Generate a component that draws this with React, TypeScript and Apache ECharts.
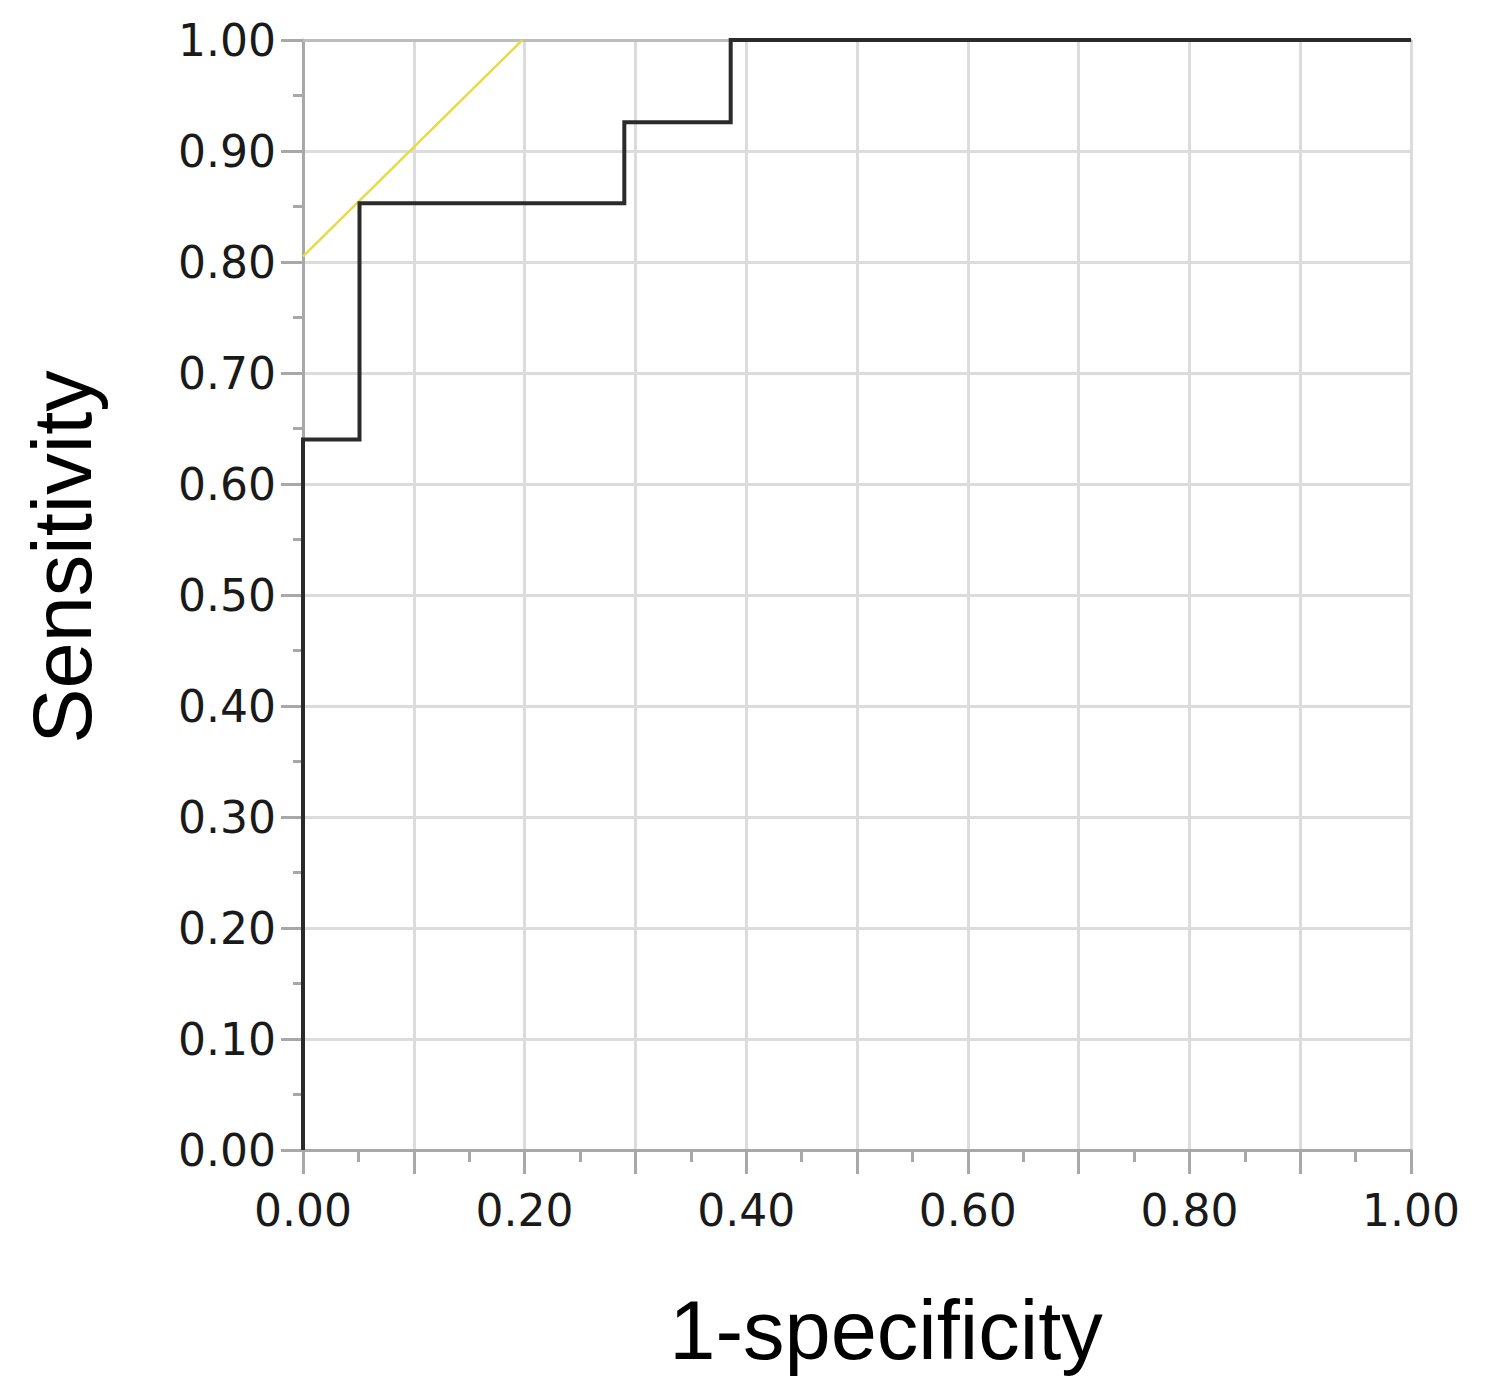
import React, { useEffect, useRef } from "react";
import * as echarts from "echarts";

// ROC curve (1-specificity, sensitivity)
const fpr = [0, 0, 0.051, 0.051, 0.29, 0.29, 0.386, 0.386, 1.0];
const tpr = [0, 0.64, 0.64, 0.853, 0.853, 0.926, 0.926, 1.0, 1.0];
// tangent line
const tangentX = [0, 0.198];
const tangentY = [0.805, 1.0];

const xTitle = "1-specificity";
const yTitle = "Sensitivity";

export default function App() {
  const ref = useRef<HTMLDivElement>(null);
  useEffect(() => {
    document.body.style.margin = "0";
    const chart = echarts.init(ref.current!, null, { renderer: "svg" });
    const labelStyle = {
      fontFamily: "DejaVu Sans",
      fontSize: 44,
      color: "#1a1a1a",
    };
    const axisLineStyle = { color: "#a8a8a8", width: 3 };
    const gridStyle = { color: "#dcdcdc", width: 3 };
    chart.setOption({
      animation: false,
      backgroundColor: "#ffffff",
      grid: { left: 303, right: 81, top: 40, bottom: 250 },
      xAxis: [
        {
          type: "value",
          min: 0,
          max: 1,
          interval: 0.1,
          axisLine: { show: true, onZero: false, lineStyle: axisLineStyle },
          axisTick: { show: true, length: 24, lineStyle: { color: "#a8a8a8", width: 3 } },
          minorTick: { show: true, splitNumber: 2, length: 12, lineStyle: { color: "#a8a8a8", width: 3 } },
          splitLine: { show: true, lineStyle: gridStyle },
          axisLabel: {
            ...labelStyle,
            margin: 38,
            formatter: (v: number) =>
              Math.round(v * 10) % 2 === 0 ? v.toFixed(2) : "",
          },
        },
        {
          type: "value",
          position: "top",
          min: 0,
          max: 1,
          axisLine: { show: true, onZero: false, lineStyle: { color: "#bdbdbd", width: 3 } },
          axisTick: { show: false },
          axisLabel: { show: false },
          splitLine: { show: false },
        },
      ],
      yAxis: {
        type: "value",
        min: 0,
        max: 1,
        interval: 0.1,
        axisLine: { show: true, onZero: false, lineStyle: axisLineStyle },
        axisTick: { show: true, length: 22, lineStyle: { color: "#a8a8a8", width: 3 } },
        minorTick: { show: true, splitNumber: 2, length: 10, lineStyle: { color: "#a8a8a8", width: 3 } },
        splitLine: { show: true, lineStyle: gridStyle },
        axisLabel: {
          ...labelStyle,
          margin: 27,
          formatter: (v: number) => v.toFixed(2),
        },
      },
      series: [
        {
          type: "line",
          data: tangentX.map((x, i) => [x, tangentY[i]]),
          showSymbol: false,
          clip: false,
          lineStyle: { color: "#e6dc4a", width: 2.5 },
          z: 3,
        },
        {
          type: "line",
          data: fpr.map((x, i) => [x, tpr[i]]),
          showSymbol: false,
          clip: false,
          lineStyle: { color: "#2b2b2b", width: 4, join: "miter" },
          z: 4,
        },
      ],
      graphic: [
        {
          type: "text",
          x: 886,
          y: 1330,
          style: {
            text: xTitle,
            font: "83px 'Liberation Sans'",
            fill: "#000000",
            textAlign: "center",
            textVerticalAlign: "middle",
          },
        },
        {
          type: "text",
          x: 62,
          y: 557,
          rotation: Math.PI / 2,
          style: {
            text: yTitle,
            font: "83px 'Liberation Sans'",
            fill: "#000000",
            textAlign: "center",
            textVerticalAlign: "middle",
          },
        },
      ],
    });
    return () => chart.dispose();
  }, []);
  return <div ref={ref} style={{ width: 1492, height: 1400 }} />;
}
